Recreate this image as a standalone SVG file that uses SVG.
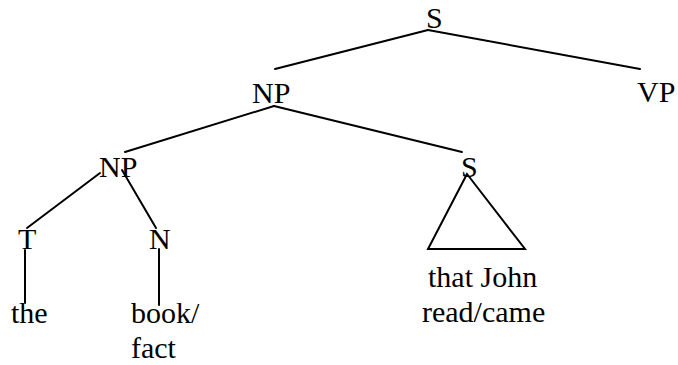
<svg xmlns="http://www.w3.org/2000/svg" width="678" height="365" viewBox="0 0 678 365">
  <style>
    text { font-family: "Liberation Serif", "Times New Roman", serif; font-size: 30px; fill: #000; }
    .edge { stroke: #000; stroke-width: 2; fill: none; stroke-linecap: round; }
  </style>
  <rect width="678" height="365" fill="#fff"/>
  <g id="connectors">
    <line class="edge" x1="428" y1="30" x2="275" y2="69"/>
    <line class="edge" x1="428" y1="30" x2="640" y2="69"/>
    <line class="edge" x1="274" y1="106" x2="125" y2="152"/>
    <line class="edge" x1="274" y1="106" x2="462" y2="152"/>
    <line class="edge" x1="100" y1="173" x2="27" y2="228"/>
    <line class="edge" x1="122" y1="170" x2="156" y2="228"/>
    <line class="edge" x1="25" y1="250" x2="25" y2="303"/>
    <line class="edge" x1="159" y1="249" x2="159" y2="305"/>
    <polygon class="edge" points="467,174 428,249 525,249"/>
  </g>
  <g id="S-root"><text x="426" y="28">S</text></g>
  <g id="NP-top"><text x="252" y="103">NP</text></g>
  <g id="VP"><text x="637" y="102">VP</text></g>
  <g id="NP-inner"><text x="99" y="177">NP</text></g>
  <g id="S-clause"><text x="461" y="177">S</text></g>
  <g id="T"><text x="18" y="249">T</text></g>
  <g id="N"><text x="149" y="249">N</text></g>
  <g id="the"><text x="11" y="323">the</text></g>
  <g id="book-fact"><text x="131" y="323">book/</text><text x="131" y="358">fact</text></g>
  <g id="clause-words"><text x="428" y="287">that John</text><text x="422" y="322">read/came</text></g>
</svg>
